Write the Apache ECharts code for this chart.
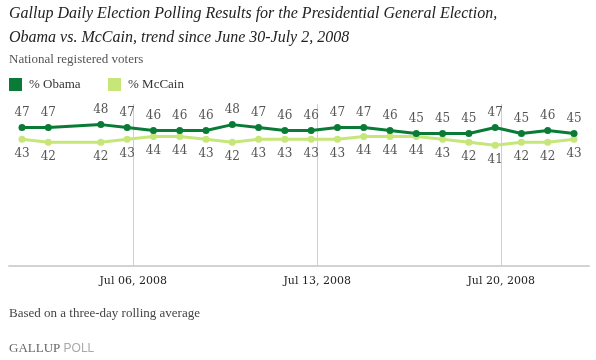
<!DOCTYPE html>
<html><head><meta charset="utf-8">
<script src="https://cdn.jsdelivr.net/npm/echarts@6/dist/echarts.min.js"></script>
<style>html,body{margin:0;padding:0;background:#fff}#c{width:596px;height:360px}</style>
</head><body><div id="c"></div>
<script>
const dates = ['2008-07-02','2008-07-03','2008-07-05','2008-07-06','2008-07-07','2008-07-08','2008-07-09','2008-07-10','2008-07-11','2008-07-12','2008-07-13','2008-07-14','2008-07-15','2008-07-16','2008-07-17','2008-07-18','2008-07-19','2008-07-20','2008-07-21','2008-07-22','2008-07-23'];
const obama  = [47,47,48,47,46,46,46,48,47,46,46,47,47,46,45,45,45,47,45,46,45];
const mccain = [43,42,42,43,44,44,43,42,43,43,43,43,44,44,44,43,42,41,42,42,43];
const tickDates = ['2008-07-06','2008-07-13','2008-07-20'];
const seriesNames = ['% Obama','% McCain'];
const colors = ['#0a7b36','#c6e67a'];

const dayOf = s => parseInt(s.slice(8,10),10);
const tickShift = 0.23;
const tickVals = tickDates.map(s => dayOf(s) + tickShift);
const pad = n => (n < 10 ? '0' : '') + n;
const serif = '"DejaVu Serif", "Liberation Serif", serif';

const chart = echarts.init(document.getElementById('c'));
chart.setOption({
  animation: false,
  grid: {left: 9, right: 7, top: 104, bottom: 94, containLabel: false},
  xAxis: {
    type: 'value', min: 1.505, max: 23.57,
    axisLine: {show: true, lineStyle: {color: '#d3d3cf', width: 2}},
    axisTick: {show: false, customValues: tickVals},
    axisLabel: {customValues: tickVals, color: '#222', fontFamily: serif, fontSize: 11, margin: 10,
      formatter: v => 'Jul ' + pad(Math.floor(v)) + ', 2008'},
    splitLine: {show: true, lineStyle: {color: '#cfcfcf', width: 1}}
  },
  yAxis: {type: 'value', min: 0, max: 55, show: false, splitLine: {show: false}},
  series: [
    {name: seriesNames[0], type: 'line', data: dates.map((d,i) => [dayOf(d), obama[i]]),
     color: colors[0], lineStyle: {width: 3}, symbol: 'circle', symbolSize: 7, z: 3,
     label: {show: true, position: 'top', distance: 5, color: '#555', fontFamily: serif, fontSize: 12}},
    {name: seriesNames[1], type: 'line', data: dates.map((d,i) => [dayOf(d), mccain[i]]),
     color: colors[1], lineStyle: {width: 3}, symbol: 'circle', symbolSize: 7, z: 2,
     label: {show: true, position: 'bottom', distance: 5, color: '#555', fontFamily: serif, fontSize: 12}}
  ],
  graphic: [
    {type: 'text', left: 9, top: 6, style: {text: 'Gallup Daily Election Polling Results for the Presidential General Election,', font: 'italic 16px "Liberation Serif", serif', fill: '#222'}},
    {type: 'text', left: 9, top: 30, style: {text: 'Obama vs. McCain, trend since June 30-July 2, 2008', font: 'italic 16px "Liberation Serif", serif', fill: '#222'}},
    {type: 'text', left: 9, top: 53, style: {text: 'National registered voters', font: '13px "Liberation Serif", serif', fill: '#555'}},
    {type: 'rect', shape: {x: 9, y: 78, width: 13, height: 13}, style: {fill: colors[0]}},
    {type: 'text', left: 29, top: 78, style: {text: seriesNames[0], font: '13px "Liberation Serif", serif', fill: '#333'}},
    {type: 'rect', shape: {x: 108, y: 78, width: 13, height: 13}, style: {fill: colors[1]}},
    {type: 'text', left: 128, top: 78, style: {text: seriesNames[1], font: '13px "Liberation Serif", serif', fill: '#333'}},
    {type: 'text', left: 9, top: 307, style: {text: 'Based on a three-day rolling average', font: '13px "Liberation Serif", serif', fill: '#444'}},
    {type: 'text', left: 9, top: 342, style: {
      text: '{a|GALLUP} {b|POLL}',
      rich: {a: {font: '13px "Liberation Serif", serif', fill: '#666'}, b: {font: '12px "Liberation Sans", sans-serif', fill: '#aaa'}}
    }}
  ]
});
</script>
</body></html>
